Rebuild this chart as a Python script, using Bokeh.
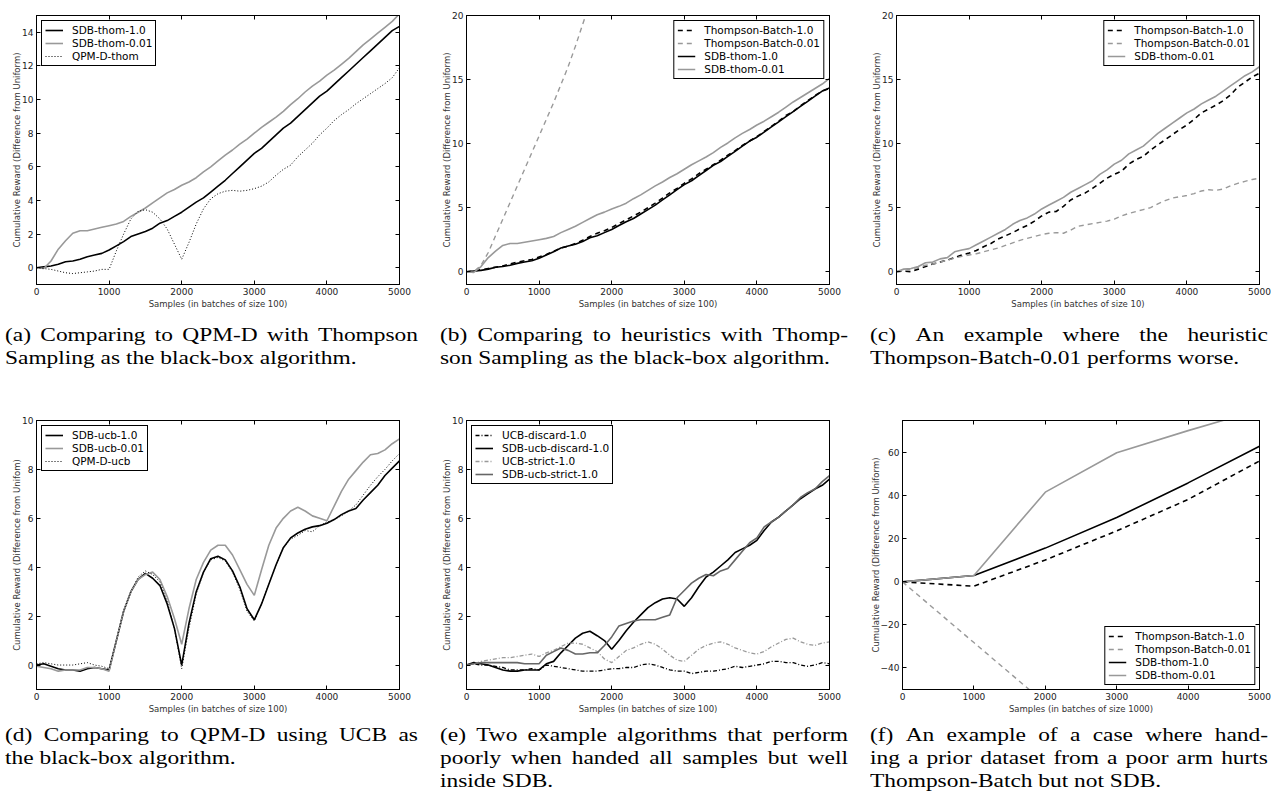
from bokeh.plotting import figure
from bokeh.models import LinearAxis, FixedTicker, Legend, LegendItem, Div, Range1d
from bokeh.layouts import row, column
from bokeh.embed import file_html
from bokeh.resources import INLINE

# ---------------- data ----------------
X100 = list(range(0, 5001, 100))
X1000 = [0, 1000, 2000, 3000, 4000, 5000]
XTICKS = [0, 1000, 2000, 3000, 4000, 5000]

# (a) / (b) Thompson sampling, batches of 100
sdb_thom_10 = [0, 0.05, 0.1, 0.2, 0.35, 0.4, 0.5, 0.65, 0.75, 0.85, 1.05,
               1.3, 1.55, 1.85, 2.0, 2.15, 2.35, 2.65, 2.8, 3.05, 3.3,
               3.6, 3.9, 4.15, 4.5, 4.85, 5.2, 5.6, 6.0, 6.4, 6.8,
               7.1, 7.5, 7.9, 8.3, 8.6, 9.0, 9.4, 9.8, 10.2, 10.5,
               10.9, 11.3, 11.7, 12.1, 12.5, 12.9, 13.3, 13.7, 14.1, 14.35]
sdb_thom_001 = [0, -0.05, 0.4, 1.1, 1.6, 2.05, 2.2, 2.2, 2.3, 2.4, 2.5,
                2.6, 2.75, 3.05, 3.3, 3.55, 3.85, 4.15, 4.45, 4.65, 4.9,
                5.1, 5.35, 5.7, 6.0, 6.35, 6.7, 7.0, 7.35, 7.65, 8.0,
                8.35, 8.65, 8.95, 9.3, 9.7, 10.05, 10.45, 10.8, 11.1, 11.45,
                11.75, 12.1, 12.45, 12.85, 13.25, 13.6, 13.95, 14.3, 14.65, 15.1]
qpmd_thom = [0, -0.05, -0.1, -0.2, -0.3, -0.35, -0.3, -0.25, -0.2, -0.1, -0.1,
             1.0, 2.0, 2.9, 3.35, 3.45, 3.3, 2.9, 2.3, 1.4, 0.5,
             1.5, 2.6, 3.5, 4.1, 4.4, 4.55, 4.6, 4.55, 4.6, 4.7,
             4.85, 5.1, 5.5, 5.85, 6.1, 6.6, 7.0, 7.4, 7.9, 8.3,
             8.75, 9.1, 9.4, 9.75, 10.05, 10.35, 10.65, 10.95, 11.3, 11.9]
b_tb_10 = [0, 0.05, 0.15, 0.25, 0.35, 0.45, 0.6, 0.75, 0.85, 0.95, 1.15,
           1.35, 1.6, 1.85, 2.0, 2.2, 2.45, 2.75, 3.0, 3.2, 3.45,
           3.75, 4.05, 4.35, 4.65, 5.0, 5.35, 5.75, 6.15, 6.5, 6.9,
           7.25, 7.65, 8.0, 8.35, 8.7, 9.1, 9.45, 9.85, 10.2, 10.55,
           10.95, 11.35, 11.75, 12.2, 12.5, 12.95, 13.35, 13.75, 14.1, 14.3]
b_tb_001 = [0, 0, 0.5, 1.5, 2.8, 4.1, 5.4, 6.7, 8.0, 9.3, 10.6,
            11.9, 13.2, 14.6, 16.0, 17.6, 19.3, 21.0, 22.7]

# (c) batches of 10
c_tb_10 = [0, 0.05, 0.0, 0.2, 0.4, 0.6, 0.75, 0.9, 1.1, 1.3, 1.45,
           1.65, 1.95, 2.2, 2.55, 2.8, 3.05, 3.35, 3.6, 3.95, 4.35,
           4.65, 4.7, 5.1, 5.6, 5.9, 6.15, 6.5, 6.9, 7.3, 7.6,
           7.85, 8.4, 8.75, 9.0, 9.5, 9.9, 10.3, 10.7, 11.1, 11.45,
           11.9, 12.4, 12.7, 13.0, 13.35, 13.8, 14.4, 14.8, 15.2, 15.5]
c_tb_001 = [0, 0.1, 0.2, 0.35, 0.5, 0.6, 0.75, 0.9, 1.05, 1.2, 1.3,
            1.4, 1.55, 1.7, 1.85, 2.05, 2.25, 2.45, 2.6, 2.75, 2.9,
            3.0, 3.05, 3.0, 3.25, 3.55, 3.65, 3.75, 3.85, 3.95, 4.1,
            4.35, 4.55, 4.7, 4.85, 5.0, 5.3, 5.55, 5.75, 5.85, 5.95,
            6.1, 6.3, 6.4, 6.35, 6.45, 6.7, 6.9, 7.05, 7.2, 7.3]
c_sdb_001 = [0, 0.2, 0.25, 0.4, 0.7, 0.75, 1.0, 1.1, 1.55, 1.7, 1.8,
             2.1, 2.4, 2.7, 3.0, 3.3, 3.7, 4.0, 4.2, 4.5, 4.9,
             5.2, 5.5, 5.8, 6.2, 6.5, 6.8, 7.1, 7.6, 7.95, 8.4,
             8.7, 9.2, 9.5, 9.8, 10.3, 10.8, 11.2, 11.6, 12.0, 12.4,
             12.7, 13.1, 13.4, 13.7, 14.1, 14.5, 14.9, 15.3, 15.6, 16.0]

# (d) UCB
d_sdb_10 = [0.0, 0.05, -0.05, -0.15, -0.2, -0.2, -0.25, -0.15, -0.1, -0.15, -0.2,
            1.0, 2.2, 3.0, 3.5, 3.75, 3.55, 3.25, 2.5, 1.5, 0.0,
            1.7, 3.0, 3.8, 4.35, 4.45, 4.3, 3.85, 3.2, 2.3, 1.85,
            2.5, 3.3, 4.1, 4.8, 5.2, 5.4, 5.55, 5.65, 5.7, 5.8,
            5.95, 6.15, 6.3, 6.4, 6.75, 7.05, 7.35, 7.75, 8.05, 8.35]
d_sdb_001 = [-0.05, -0.1, -0.15, -0.25, -0.2, -0.2, -0.2, -0.1, -0.1, -0.15, -0.25,
             1.0, 2.2, 3.0, 3.5, 3.7, 3.8, 3.5, 2.8, 1.9, 0.85,
             2.3, 3.5, 4.2, 4.7, 4.9, 4.9, 4.5, 3.9, 3.3, 2.85,
             3.9, 4.9, 5.6, 6.0, 6.3, 6.45, 6.3, 6.1, 6.0, 5.9,
             6.5, 7.1, 7.6, 7.95, 8.3, 8.6, 8.65, 8.8, 9.05, 9.25]
d_qpmd = [0.05, 0.1, 0.05, 0.0, 0.0, 0.0, 0.05, 0.1, 0.0, -0.05, -0.15,
          1.0, 2.2, 3.0, 3.6, 3.85, 3.7, 3.4, 2.6, 1.5, -0.15,
          1.5, 2.9, 3.8, 4.3, 4.4, 4.25, 3.8, 3.1, 2.2, 1.8,
          2.5, 3.3, 4.1, 4.8, 5.15, 5.3, 5.5, 5.45, 5.7, 5.85,
          5.95, 6.1, 6.3, 6.55, 6.95, 7.35, 7.7, 8.0, 8.35, 8.65]

# (e) discard / strict
e_ucb_discard = [0, 0.05, 0.0, 0.0, -0.05, -0.1, -0.2, -0.2, -0.2, -0.15, -0.2,
                 0.0, -0.05, -0.1, -0.15, -0.2, -0.25, -0.25, -0.25, -0.2, -0.15,
                 -0.15, -0.1, -0.1, 0.0, 0.05, 0.0, -0.1, -0.2, -0.25, -0.25,
                 -0.35, -0.3, -0.25, -0.25, -0.2, -0.15, -0.05, -0.1, -0.05, 0.0,
                 0.05, 0.15, 0.15, 0.1, 0.1, 0.0, -0.05, 0.0, 0.1, 0.05]
e_sdb_discard = [0, 0.1, 0.05, 0.0, -0.1, -0.2, -0.25, -0.25, -0.2, -0.2, -0.2,
                 0.05, 0.15, 0.5, 0.8, 1.1, 1.3, 1.38, 1.2, 1.0, 0.65,
                 1.0, 1.4, 1.75, 2.05, 2.35, 2.55, 2.7, 2.75, 2.7, 2.4,
                 2.75, 3.2, 3.6, 3.8, 4.05, 4.3, 4.6, 4.75, 4.9, 5.1,
                 5.5, 5.85, 6.05, 6.3, 6.55, 6.8, 7.0, 7.2, 7.35, 7.6]
e_ucb_strict = [0, 0.05, 0.15, 0.2, 0.25, 0.3, 0.3, 0.35, 0.4, 0.45, 0.35,
                0.5, 0.6, 0.75, 0.9, 0.9, 0.85, 0.7, 0.55, 0.25, 0.1,
                0.35, 0.6, 0.7, 0.85, 0.95, 0.85, 0.65, 0.4, 0.2, 0.15,
                0.4, 0.65, 0.8, 0.9, 0.95, 0.85, 0.7, 0.6, 0.5, 0.45,
                0.55, 0.75, 0.9, 1.05, 1.1, 0.95, 0.85, 0.8, 0.9, 0.95]
e_sdb_strict = [0, 0.05, 0.1, 0.1, 0.1, 0.1, 0.1, 0.1, 0.05, 0.05, 0.05,
                0.4, 0.55, 0.7, 0.6, 0.45, 0.45, 0.5, 0.5, 0.8, 1.15,
                1.6, 1.7, 1.8, 1.85, 1.85, 1.85, 1.95, 2.05, 2.75, 3.05,
                3.35, 3.55, 3.7, 3.65, 3.85, 3.95, 4.3, 4.65, 5.0, 5.2,
                5.65, 5.85, 6.05, 6.3, 6.55, 6.85, 7.05, 7.2, 7.5, 7.75]

# (f) batches of 1000
f_tb_10 = [0, -2.0, 10.2, 23.7, 38.3, 56.2]
f_tb_001 = [0, -28.2, -56.4]
f_sdb_10 = [0, 3.0, 15.7, 29.9, 46.0, 63.0]
f_sdb_001 = [0, 3.0, 41.7, 60.0, 70.3, 80.0]

YLABEL = "Cumulative Reward (Difference from Uniform)"
YLABEL_B = "Cumulative Reward (Difference from Unifom)"

CAPTIONS = {
    "a": ["(a) Comparing to QPM-D with Thompson", "Sampling as the black-box algorithm."],
    "b": ["(b) Comparing to heuristics with Thomp-", "son Sampling as the black-box algorithm."],
    "c": ["(c) An example where the heuristic", "Thompson-Batch-0.01 performs worse."],
    "d": ["(d) Comparing to QPM-D using UCB as", "the black-box algorithm."],
    "e": ["(e) Two example algorithms that perform", "poorly when handed all samples but well", "inside SDB."],
    "f": ["(f) An example of a case where hand-", "ing a prior dataset from a poor arm hurts",
          "Thompson-Batch but not SDB."],
}

BLACK = "#000000"
GRAY = "#999999"
DGRAY = "#666666"
FONT = "DejaVu Sans"


def make_fig(w, h, xr, yr, yticks, bl, br, bt, bb, xlabel, ylabel, overrides=None):
    p = figure(width=w, height=h, x_range=Range1d(*xr), y_range=Range1d(*yr),
               output_backend="svg", toolbar_location=None,
               min_border_left=bl, min_border_right=br,
               min_border_top=bt, min_border_bottom=bb)
    p.grid.grid_line_color = None
    p.outline_line_color = "black"
    p.outline_line_width = 1
    p.outline_line_alpha = 1
    xt = FixedTicker(ticks=XTICKS)
    yt = FixedTicker(ticks=yticks)
    p.xaxis.ticker = xt
    p.yaxis.ticker = yt
    for ax in (p.xaxis[0], p.yaxis[0]):
        ax.axis_line_color = "black"
        ax.major_tick_line_color = "black"
        ax.minor_tick_line_color = None
        ax.major_tick_in = 4
        ax.major_tick_out = 0
        ax.major_label_text_font = FONT
        ax.major_label_text_font_size = "9px"
        ax.major_label_text_color = "#222222"
        ax.axis_label_text_font = FONT
        ax.axis_label_text_font_size = "8.5px"
        ax.axis_label_text_font_style = "normal"
        ax.axis_label_text_color = "#333333"
    p.xaxis.major_label_standoff = 3
    p.xaxis.axis_label_standoff = 1
    p.yaxis.major_label_standoff = 3
    p.yaxis.axis_label_standoff = -3
    p.xaxis.axis_label = xlabel
    p.yaxis.axis_label = ylabel
    if overrides:
        p.yaxis.major_label_overrides = overrides
    for ticker, side in ((xt, "above"), (yt, "right")):
        ax = LinearAxis(ticker=ticker, major_tick_in=4, major_tick_out=0,
                        major_label_standoff=0, major_label_text_font_size="0px",
                        major_label_text_color=None,
                        axis_line_color="black", major_tick_line_color="black",
                        minor_tick_line_color=None)
        p.add_layout(ax, side)
    return p


def add_legend(p, items, location, margin=5):
    lg = Legend(items=[LegendItem(label=lab, renderers=[r]) for lab, r in items],
                location=location)
    lg.margin = margin
    lg.padding = 3
    lg.spacing = 1
    lg.glyph_width = 18
    lg.glyph_height = 12
    lg.label_height = 12
    lg.label_standoff = 9
    lg.label_text_font = FONT
    lg.label_text_font_size = "10.5px"
    lg.label_text_color = "black"
    lg.border_line_color = "black"
    lg.border_line_width = 1
    lg.border_line_alpha = 1
    lg.background_fill_color = "white"
    lg.background_fill_alpha = 1
    p.add_layout(lg)


XL100 = "Samples (in batches of size 100)"
TOP_H, BOT_H = 315, 354

# (a)
pa = make_fig(403, TOP_H, (0, 5000), (-1, 15), list(range(0, 15, 2)), 28, 12, 4, 39, XL100, YLABEL)
ra1 = pa.line(X100, sdb_thom_10, line_color=BLACK, line_width=1.6)
ra2 = pa.line(X100, sdb_thom_001, line_color=GRAY, line_width=1.6)
ra3 = pa.line(X100, qpmd_thom, line_color=BLACK, line_width=1, line_dash="1 2")
add_legend(pa, [("SDB-thom-1.0", ra1), ("SDB-thom-0.01", ra2), ("QPM-D-thom", ra3)], "top_left")

# (b)
pb = make_fig(430, TOP_H, (0, 5000), (-1, 20), [0, 5, 10, 15, 20], 55, 12, 7, 39, XL100, YLABEL)
rb1 = pb.line(X100, b_tb_10, line_color=BLACK, line_width=1.6, line_dash="5 4")
rb2 = pb.line(X100[:len(b_tb_001)], b_tb_001, line_color=GRAY, line_width=1.4, line_dash="5 4")
rb3 = pb.line(X100, sdb_thom_10, line_color=BLACK, line_width=1.6)
rb4 = pb.line(X100, sdb_thom_001, line_color=GRAY, line_width=1.6)
add_legend(pb, [("Thompson-Batch-1.0", rb1), ("Thompson-Batch-0.01", rb2),
                ("SDB-thom-1.0", rb3), ("SDB-thom-0.01", rb4)], "top_right")

# (c)
pc = make_fig(430, TOP_H, (0, 5000), (-1, 20), [0, 5, 10, 15, 20], 55, 12, 7, 39,
              "Samples (in batches of size 10)", YLABEL)
rc1 = pc.line(X100, c_tb_10, line_color=BLACK, line_width=1.6, line_dash="5 4")
rc2 = pc.line(X100, c_tb_001, line_color=GRAY, line_width=1.4, line_dash="5 4")
rc3 = pc.line(X100, c_sdb_001, line_color=GRAY, line_width=1.6)
add_legend(pc, [("Thompson-Batch-1.0", rc1), ("Thompson-Batch-0.01", rc2),
                ("SDB-thom-0.01", rc3)], "top_right")

# (d)
pd_ = make_fig(403, BOT_H, (0, 5000), (-1, 10), [0, 2, 4, 6, 8, 10], 28, 12, 51, 34, XL100, YLABEL_B)
rd1 = pd_.line(X100, d_sdb_10, line_color=BLACK, line_width=1.6)
rd2 = pd_.line(X100, d_sdb_001, line_color=GRAY, line_width=1.6)
rd3 = pd_.line(X100, d_qpmd, line_color=BLACK, line_width=1, line_dash="1 2")
add_legend(pd_, [("SDB-ucb-1.0", rd1), ("SDB-ucb-0.01", rd2), ("QPM-D-ucb", rd3)], "top_left")

# (e)
pe = make_fig(430, BOT_H, (0, 5000), (-1, 10), [0, 2, 4, 6, 8, 10], 55, 12, 51, 34, XL100, YLABEL_B)
re1 = pe.line(X100, e_ucb_discard, line_color=BLACK, line_width=1.3, line_dash="4 2 1 2")
re2 = pe.line(X100, e_sdb_discard, line_color=BLACK, line_width=1.6)
re3 = pe.line(X100, e_ucb_strict, line_color=GRAY, line_width=1.3, line_dash="4 2 1 2")
re4 = pe.line(X100, e_sdb_strict, line_color=DGRAY, line_width=1.6)
add_legend(pe, [("UCB-discard-1.0", re1), ("SDB-ucb-discard-1.0", re2),
                ("UCB-strict-1.0", re3), ("SDB-ucb-strict-1.0", re4)], "top_left")

# (f)
pf = make_fig(430, BOT_H, (0, 5000), (-50, 75), [-40, -20, 0, 20, 40, 60], 61, 12, 48, 34,
              "Samples (in batches of size 1000)", YLABEL,
              overrides={-40: "\u221240", -20: "\u221220"})
rf1 = pf.line(X1000, f_tb_10, line_color=BLACK, line_width=1.6, line_dash="5 4")
rf2 = pf.line(X1000[:len(f_tb_001)], f_tb_001, line_color=GRAY, line_width=1.4, line_dash="5 4")
rf3 = pf.line(X1000, f_sdb_10, line_color=BLACK, line_width=1.6)
rf4 = pf.line(X1000, f_sdb_001, line_color=GRAY, line_width=1.6)
add_legend(pf, [("Thompson-Batch-1.0", rf1), ("Thompson-Batch-0.01", rf2),
                ("SDB-thom-1.0", rf3), ("SDB-thom-0.01", rf4)], "bottom_right", margin=4)

SCALE_X = 1.2


def caption(key, outer_w, target_w, shift, h):
    lines = CAPTIONS[key]
    parts = []
    for i, ln in enumerate(lines):
        if i < len(lines) - 1:
            words = " ".join('<span style="white-space:nowrap">%s</span>' % w for w in ln.split(" "))
            parts.append('<div style="display:flex;justify-content:space-between;">%s</div>' % words)
        else:
            parts.append('<div style="white-space:nowrap">%s</div>' % ln)
    inner_w = target_w / SCALE_X
    html = ('<div style="font-family:\'Liberation Serif\',\'Times New Roman\',serif;font-size:19.5px;'
            'line-height:23px;color:#000;width:%.1fpx;margin-left:%dpx;'
            'transform:scaleX(%.3f);transform-origin:0 0;">%s</div>'
            % (inner_w, shift, SCALE_X, "".join(parts)))
    return Div(text=html, width=outer_w, height=h, margin=(0, 0, 0, 0))


cap_a = caption("a", 403, 413, -3, 46)
cap_b = caption("b", 430, 408, 29, 46)
cap_c = caption("c", 430, 398, 29, 46)
cap_d = caption("d", 403, 413, -3, 69)
cap_e = caption("e", 430, 408, 29, 69)
cap_f = caption("f", 430, 398, 29, 69)

layout = column(row(pa, pb, pc), row(cap_a, cap_b, cap_c),
                row(pd_, pe, pf), row(cap_d, cap_e, cap_f),
                margin=(8, 0, 0, 8))

open("out.html", "w").write(file_html(layout, INLINE))
